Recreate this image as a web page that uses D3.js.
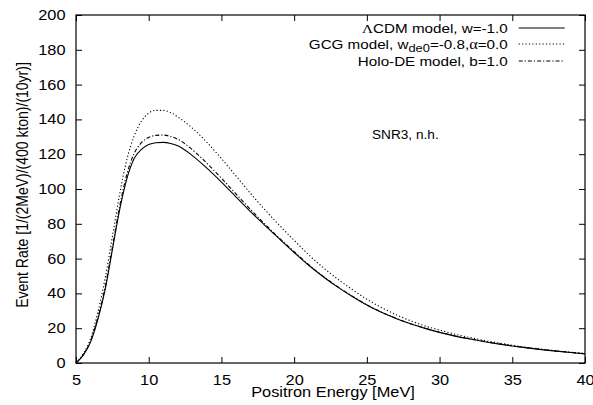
<!DOCTYPE html>
<html>
<head>
<meta charset="utf-8">
<script src="https://cdn.jsdelivr.net/npm/d3@7"></script>
<style>
  body { margin: 0; background: #fff; }
  text { font-family: "Liberation Sans", Arial, sans-serif; }
</style>
</head>
<body>
<svg id="chart" width="593" height="405"></svg>
<script>
// positron energy grid [MeV]
var energy = [5, 5.5, 6, 6.5, 7, 7.5, 8, 8.5, 9, 9.5, 10, 10.5, 11, 11.5, 12, 13, 14, 15, 16, 17, 18, 19, 20,
              21, 22, 23, 24, 25, 26, 27, 28, 29, 30, 31, 32, 33, 34, 35, 36, 37, 38, 39, 40];

// LambdaCDM, w=-1.0
var lcdm = [0, 4.5, 12, 25, 42, 65, 88, 106, 117.5, 122.8, 125.6, 126.6, 126.8, 126.2, 124.8, 119.2, 112, 104, 95.5, 87, 79, 71.2, 63.5,
            56.2, 49.6, 43.6, 38.2, 33.3, 29.1, 25.6, 22.5, 19.9, 17.6, 15.6, 13.9, 12.4, 11, 9.8, 8.7, 7.7, 6.8, 6, 5.3];

// GCG, w_de0=-0.8, alpha=0.0
var gcg = [0, 5.2, 14, 29, 48.5, 72.5, 97, 117, 130.5, 139, 143.6, 145.2, 145.2, 144, 141.4, 135, 126.8, 117.5, 107.5, 97.5, 88, 79, 70.5,
           62.2, 54.8, 48.2, 42.2, 36.6, 31.9, 27.8, 24.3, 21.3, 18.9, 16.7, 14.8, 13.1, 11.6, 10.2, 9, 8, 7, 6.2, 5.4];

// Holo-DE, b=1.0
var holo = [0, 4.8, 12.6, 26, 43.5, 66.5, 90, 108.5, 120.5, 126.6, 129.6, 130.8, 131, 130.2, 128.6, 122.6, 114.8, 106.2, 97.2, 88.2, 79.8, 71.6, 64,
            56.5, 49.8, 43.8, 38.4, 33.4, 29.2, 25.7, 22.6, 20, 17.7, 15.7, 14, 12.5, 11.1, 9.9, 8.8, 7.8, 6.9, 6.1, 5.3];

var xTicks = [5, 10, 15, 20, 25, 30, 35, 40];
var yTicks = [0, 20, 40, 60, 80, 100, 120, 140, 160, 180, 200];

var margin = {left: 76, right: 8, top: 15, bottom: 42};
var width = 593 - margin.left - margin.right,
    height = 405 - margin.top - margin.bottom;

// the original figure is a bit stretched sideways, so the glyphs are too
var sx = 1.17;

var svg = d3.select("#chart");
var g = svg.append("g").attr("transform", "translate(" + margin.left + "," + margin.top + ")");

var x = d3.scaleLinear().domain([5, 40]).range([0, width]);
var y = d3.scaleLinear().domain([0, 200]).range([height, 0]);

// axes, ticks pointing inward, mirrored on top and right
var tl = 6;
g.append("g").attr("class", "xaxis").attr("transform", "translate(0," + height + ")")
    .call(d3.axisBottom(x).tickValues(xTicks).tickSize(-tl).tickPadding(12.5).tickFormat(d3.format("d")));
g.append("g")
    .call(d3.axisTop(x).tickValues(xTicks).tickSize(-tl).tickFormat(""));
g.append("g").attr("class", "yaxis")
    .call(d3.axisLeft(y).tickValues(yTicks).tickSize(-tl).tickFormat(d3.format("d")));
g.append("g").attr("transform", "translate(" + width + ",0)")
    .call(d3.axisRight(y).tickValues(yTicks).tickSize(-tl).tickFormat(""));

g.selectAll(".domain").remove();
g.selectAll(".tick line").attr("stroke", "#000").attr("stroke-width", 1);
g.selectAll(".tick text").attr("fill", "#000").style("font-size", "14px")
    .style("font-family", "'Liberation Sans', Arial, sans-serif")
    .attr("transform", "scale(" + sx + ",1)");
g.selectAll(".yaxis .tick text").attr("x", -10.5 / sx);

g.append("rect")
    .attr("width", width).attr("height", height)
    .attr("fill", "none").attr("stroke", "#000").attr("stroke-width", 1.2);

// curves
var series = [
    {name: "lcdm", vals: lcdm, dash: null},
    {name: "gcg", vals: gcg, dash: "1.2,2.2"},
    {name: "holo", vals: holo, dash: "4,2,1.2,2"}
];

var line = d3.line()
    .x(function (d) { return x(d[0]); })
    .y(function (d) { return y(d[1]); })
    .curve(d3.curveMonotoneX);

g.selectAll(".curve")
    .data(series)
    .enter()
    .append("path")
    .attr("class", "curve")
    .attr("fill", "none")
    .attr("stroke", "#000")
    .attr("stroke-width", 1.1)
    .attr("stroke-dasharray", function (d) { return d.dash; })
    .attr("d", function (d) { return line(energy.map(function (e, i) { return [e, d.vals[i]]; })); });

// legend
var legX = 431.7, legY = [13, 29, 46];
var leg = g.append("g");

function legText(i) {
    return leg.append("text")
        .attr("transform", "translate(" + legX + "," + legY[i] + ") scale(" + sx + ",1)")
        .attr("dy", "0.35em")
        .attr("text-anchor", "end")
        .style("font-size", "13px");
}

var t1 = legText(0);
t1.append("tspan").style("font-family", "'Liberation Serif', serif").style("font-size", "13px").text("Λ");
t1.append("tspan").text("CDM model, w=-1.0");

var t2 = legText(1);
t2.append("tspan").text("GCG model, w");
t2.append("tspan").attr("dy", 3.5).style("font-size", "11px").text("de0");
t2.append("tspan").attr("dy", -3.5).text("=-0.8,");
t2.append("tspan").style("font-family", "'Liberation Serif', serif").style("font-size", "14px").text("α");
t2.append("tspan").text("=0.0");

legText(2).text("Holo-DE model, b=1.0");

leg.selectAll(".legline")
    .data(series)
    .enter()
    .append("line")
    .attr("x1", legX + 11).attr("x2", legX + 57)
    .attr("y1", function (d, i) { return legY[i]; })
    .attr("y2", function (d, i) { return legY[i]; })
    .attr("stroke", "#000")
    .attr("stroke-width", 1.1)
    .attr("stroke-dasharray", function (d) { return d.dash; });

// annotation
g.append("text")
    .attr("transform", "translate(296,123.5) scale(1.05,1)")
    .style("font-size", "13px")
    .text("SNR3, n.h.");

// axis titles
svg.append("text")
    .attr("transform", "translate(333,397) scale(" + sx + ",1)")
    .attr("text-anchor", "middle").style("font-size", "14px")
    .text("Positron Energy [MeV]");

svg.append("text")
    .attr("transform", "translate(28.3,185) scale(" + sx + ",1) rotate(-90)")
    .attr("text-anchor", "middle").style("font-size", "14px")
    .text("Event Rate [1/(2MeV)/(400 kton)/(10yr)]");
</script>
</body>
</html>
